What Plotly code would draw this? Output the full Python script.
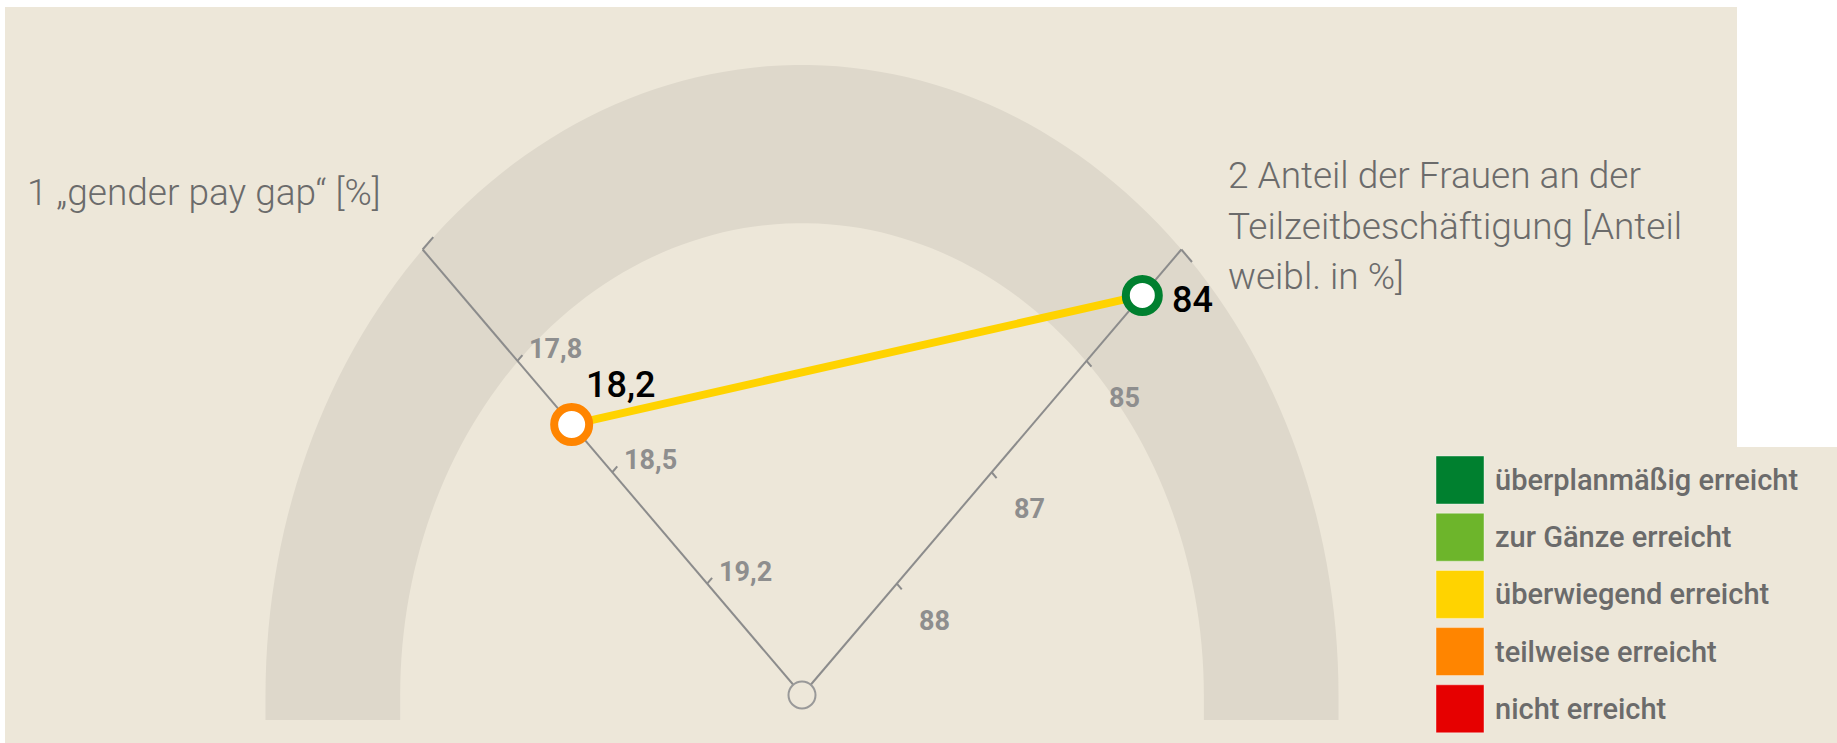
import numpy as np
import plotly.graph_objects as go

# ---------------- data ----------------
left_title = "1 „gender pay gap“ [%]"
right_title_lines = ["2 Anteil der Frauen an der", "Teilzeitbeschäftigung [Anteil", "weibl. in %]"]

gpg_ticks = [19.2, 18.5, 17.8]            # left axis tick values
gpg_ticklabels = ["19,2", "18,5", "17,8"]
gpg_scale = [19.9, 19.2, 18.5, 17.8, 17.1]  # axis breakpoints (centre -> outer)
gpg_value = 18.2
gpg_valuelabel = "18,2"

tz_ticks = [88, 87, 85]                   # right axis tick values
tz_ticklabels = ["88", "87", "85"]
tz_scale = [89, 88, 87, 85, 83.3]
tz_value = 84
tz_valuelabel = "84"

legend_labels = ["überplanmäßig erreicht", "zur Gänze erreicht", "überwiegend erreicht",
                 "teilweise erreicht", "nicht erreicht"]
legend_colors = ["#00802F", "#6DB52B", "#FFD300", "#FF8500", "#E60000"]

gpg_color = legend_colors[3]
tz_color = legend_colors[0]
overall_color = legend_colors[2]

# ---------------- layout constants ----------------
W, H = 1837, 743
BG = "#EDE7D9"
RING = "#DED8CB"
AXIS = "#8C8C8C"
frac_pts = [0, 0.25, 0.5, 0.75, 1.0]

# unit system: gauge centre (0,0), outer radius 1
cx_px, cy_px = 802, 695
rx_px, ry_px = 536.5, 630
xr = [-cx_px / rx_px, (W - cx_px) / rx_px]
yr = [-(H - cy_px) / ry_px, cy_px / ry_px]
r_in = 0.749
y_bot = -25 / ry_px


def frac(v, scale):
    s = np.array(scale, float)
    return float(np.interp(v, s[::-1], np.array(frac_pts)[::-1]))


def pos(f, ang_deg):
    a = np.radians(ang_deg)
    return f * np.cos(a), f * np.sin(a)


L_ANG, R_ANG = 135, 45

fig = go.Figure()

shapes = []
# backgrounds (paper coords)
shapes.append(dict(type="rect", xref="paper", yref="paper", x0=5 / W, x1=1737 / W,
                   y0=0, y1=1 - 7 / H, fillcolor=BG, line_width=0, layer="below"))
shapes.append(dict(type="rect", xref="paper", yref="paper", x0=1400 / W, x1=1,
                   y0=0, y1=1 - 447 / H, fillcolor=BG, line_width=0, layer="below"))

# ring
th = np.linspace(np.pi, 0, 120)
p = f"M {-1} {y_bot} L {-1} 0 "
p += " ".join(f"L {np.cos(t):.5f} {np.sin(t):.5f}" for t in th)
p += f" L 1 {y_bot} L {r_in} {y_bot} L {r_in} 0 "
p += " ".join(f"L {r_in*np.cos(t):.5f} {r_in*np.sin(t):.5f}" for t in th[::-1])
p += f" L {-r_in} {y_bot} Z"
shapes.append(dict(type="path", path=p, fillcolor=RING, line_width=0, layer="below"))

annotations = []

# axes
def draw_axis(ang, ticks, labels, scale, nsign, lab_dx, lab_dy):
    x1, y1 = pos(1, ang)
    fig.add_trace(go.Scatter(x=[0, x1], y=[0, y1], mode="lines",
                             line=dict(color=AXIS, width=2), hoverinfo="skip"))
    na = np.radians(ang + nsign * 90)
    nx, ny = np.cos(na), np.sin(na)
    # end tick
    fig.add_trace(go.Scatter(x=[x1, x1 + 0.028 * nx], y=[y1, y1 + 0.028 * ny], mode="lines",
                             line=dict(color=AXIS, width=2), hoverinfo="skip"))
    for v, lab in zip(ticks, labels):
        tx, ty = pos(frac(v, scale), ang)
        fig.add_trace(go.Scatter(x=[tx, tx + 0.013 * nx], y=[ty, ty + 0.013 * ny], mode="lines",
                                 line=dict(color=AXIS, width=2), hoverinfo="skip"))
        annotations.append(dict(x=tx, y=ty, text=lab, showarrow=False, xanchor="left",
                                yanchor="middle", xshift=lab_dx, yshift=lab_dy,
                                font=dict(family="Roboto", size=27, color="#8E8E8E", weight=700)))


draw_axis(L_ANG, gpg_ticks, gpg_ticklabels, gpg_scale, -1, 10, 12)
draw_axis(R_ANG, tz_ticks, tz_ticklabels, tz_scale, -1, 20, -37)

# centre pivot
fig.add_trace(go.Scatter(x=[0], y=[0], mode="markers",
                         marker=dict(size=27, color=BG, line=dict(color="#999999", width=2)),
                         hoverinfo="skip"))

# value line + markers
gx, gy = pos(frac(gpg_value, gpg_scale), L_ANG)
tx_, ty_ = pos(frac(tz_value, tz_scale), R_ANG)
fig.add_trace(go.Scatter(x=[gx, tx_], y=[gy, ty_], mode="lines",
                         line=dict(color=overall_color, width=8), hoverinfo="skip"))
fig.add_trace(go.Scatter(x=[gx], y=[gy], mode="markers",
                         marker=dict(size=35, color="white", line=dict(color=gpg_color, width=8))))
fig.add_trace(go.Scatter(x=[tx_], y=[ty_], mode="markers",
                         marker=dict(size=33, color="white", line=dict(color=tz_color, width=8))))

annotations.append(dict(x=gx, y=gy, text=gpg_valuelabel, showarrow=False, xanchor="left",
                        yanchor="middle", xshift=12, yshift=40,
                        font=dict(family="Roboto", size=36, color="black", weight=500)))
annotations.append(dict(x=tx_, y=ty_, text=tz_valuelabel, showarrow=False, xanchor="left",
                        yanchor="middle", xshift=28, yshift=-5,
                        font=dict(family="Roboto", size=36, color="black", weight=500)))

# titles
title_font = dict(family="Roboto", size=37, color="#6B6B6B", weight=300)
annotations.append(dict(xref="paper", yref="paper", x=25 / W, y=1 - 192 / H, text=left_title,
                        showarrow=False, xanchor="left", yanchor="middle", font=title_font))
for i, line in enumerate(right_title_lines):
    annotations.append(dict(xref="paper", yref="paper", x=1226 / W, y=1 - (176 + 50 * i) / H,
                            text=line, showarrow=False, xanchor="left", yanchor="middle",
                            font=title_font))

# legend
for i, (lab, col) in enumerate(zip(legend_labels, legend_colors)):
    top = 456 + 57.2 * i
    shapes.append(dict(type="rect", xref="paper", yref="paper", x0=1436 / W, x1=1484 / W,
                       y0=1 - (top + 48) / H, y1=1 - top / H, fillcolor=col,
                       line=dict(color="rgba(255,255,255,0.4)", width=1)))
    annotations.append(dict(xref="paper", yref="paper", x=1493 / W, y=1 - (top + 24) / H,
                            text=lab, showarrow=False, xanchor="left", yanchor="middle",
                            font=dict(family="Roboto", size=29, color="#6B6B6B", weight=500)))

fig.update_layout(
    width=W, height=H, margin=dict(l=0, r=0, t=0, b=0),
    paper_bgcolor="white", plot_bgcolor="rgba(0,0,0,0)",
    xaxis=dict(range=xr, visible=False, fixedrange=True),
    yaxis=dict(range=yr, visible=False, fixedrange=True),
    showlegend=False, shapes=shapes, annotations=annotations,
)

fig.write_html("out.html", config={"displayModeBar": False},
               post_script="document.body.style.margin='0';")
